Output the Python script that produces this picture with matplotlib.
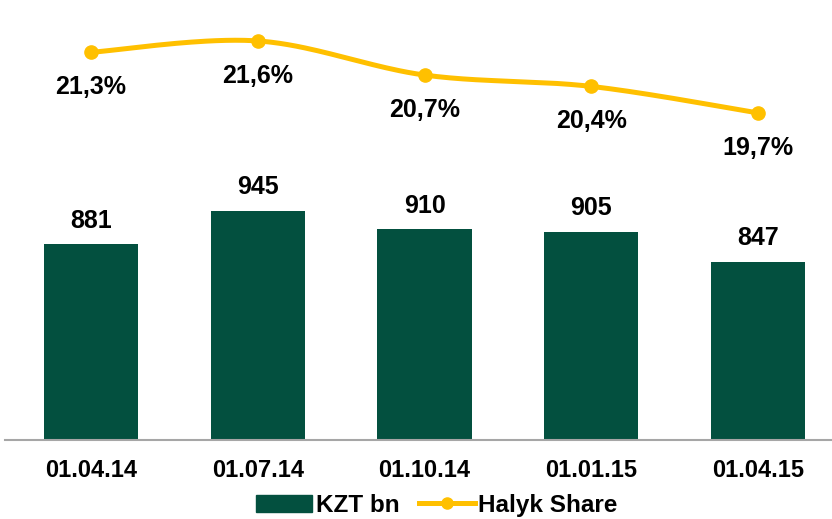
import numpy as np
import matplotlib.pyplot as plt
from matplotlib.patches import Patch
from matplotlib.lines import Line2D

plt.rcParams['font.family'] = ['Liberation Sans', 'DejaVu Sans']
plt.rcParams['font.weight'] = 'bold'

dates = ['01.04.14', '01.07.14', '01.10.14', '01.01.15', '01.04.15']
kzt_bn = [881, 945, 910, 905, 847]
halyk_share = [21.3, 21.6, 20.7, 20.4, 19.7]
share_labels = ['21,3%', '21,6%', '20,7%', '20,4%', '19,7%']

BAR_COLOR = '#03503F'
LINE_COLOR = '#FFC000'


def smooth(xs, ys, n=40):
    # catmull-rom style smoothing, like excel's "smoothed line"
    xs = np.asarray(xs, float)
    ys = np.asarray(ys, float)
    px = np.concatenate([[xs[0]], xs, [xs[-1]]])
    py = np.concatenate([[ys[0]], ys, [ys[-1]]])
    out_x, out_y = [], []
    t = np.linspace(0, 1, n)
    for i in range(1, len(px) - 2):
        for p, out in ((px, out_x), (py, out_y)):
            p0, p1, p2, p3 = p[i - 1], p[i], p[i + 1], p[i + 2]
            c1 = p1 + (p2 - p0) / 6
            c2 = p2 - (p3 - p1) / 6
            seg = ((1 - t) ** 3 * p1 + 3 * (1 - t) ** 2 * t * c1
                   + 3 * (1 - t) * t ** 2 * c2 + t ** 3 * p2)
            out.extend(seg)
    return np.array(out_x), np.array(out_y)


fig = plt.figure(figsize=(8.32, 5.19), dpi=100)
ax = fig.add_axes([5 / 832, 79 / 519, 827 / 832, 440 / 519])
x = np.arange(len(dates))

ax.bar(x, kzt_bn, width=0.564, color=BAR_COLOR)
ax.set_xlim(-0.516, 4.444)
ax.set_ylim(505, 1351)
for xi, v in zip(x, kzt_bn):
    ax.annotate(str(v), (xi, v), xytext=(0, 12), textcoords='offset points',
                ha='center', va='baseline', fontsize=18, fontweight='bold')

ax.set_xticks(x)
ax.set_xticklabels(dates, fontsize=17, fontweight='bold')
ax.tick_params(axis='x', length=0, pad=14)
ax.set_yticks([])
for s in ['top', 'left', 'right']:
    ax.spines[s].set_visible(False)
ax.spines['bottom'].set_color('#A6A6A6')
ax.spines['bottom'].set_linewidth(1.5)

ax2 = ax.twinx()
ax2.set_ylim(11.07, 22.68)
sx, sy = smooth(x, halyk_share)
ax2.plot(sx, sy, color=LINE_COLOR, lw=3.6, solid_capstyle='round')
ax2.plot(x, halyk_share, 'o', color=LINE_COLOR, markersize=9.5)
for xi, v, lab in zip(x, halyk_share, share_labels):
    ax2.annotate(lab, (xi, v), xytext=(0, -30), textcoords='offset points',
                 ha='center', va='baseline', fontsize=18, fontweight='bold')
ax2.set_yticks([])
for s in ['top', 'left', 'right', 'bottom']:
    ax2.spines[s].set_visible(False)

handles = [Patch(color=BAR_COLOR, label='KZT bn'),
           Line2D([0], [0], color=LINE_COLOR, lw=3.6, marker='o', markersize=8,
                  label='Halyk Share')]
fig.legend(handles=handles, loc='lower center', bbox_to_anchor=(437 / 832, -0.038),
           ncol=2, frameon=False, fontsize=17.5, handlelength=2.3,
           handletextpad=0.15, columnspacing=0.8)

fig.savefig('out.png', dpi=100)
